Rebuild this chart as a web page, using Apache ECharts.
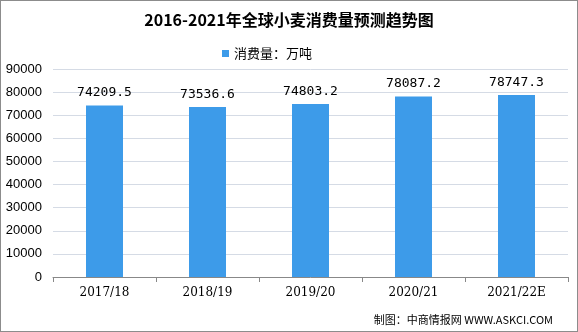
<!DOCTYPE html>
<html><head><meta charset="utf-8">
<script src="https://cdn.jsdelivr.net/npm/echarts@6/dist/echarts.min.js"></script>
<style>html,body{margin:0;padding:0;background:#fff}#c{width:576px;height:330px;border:1px solid #8c8c8c}</style>
</head><body><div id="c"></div>
<script>
const categories = ['2017/18','2018/19','2019/20','2020/21','2021/22E'];
const values = [74209.5, 73536.6, 74803.2, 78087.2, 78747.3];
const seriesName = '消费量：万吨';
const chart = echarts.init(document.getElementById('c'));
chart.setOption({
  animation:false,
  title:{text:'2016-2021年全球小麦消费量预测趋势图',left:'center',top:6,
    textStyle:{fontFamily:'Noto Sans CJK SC',fontWeight:'bold',fontSize:16,color:'#000'}},
  legend:{top:41,left:216,itemWidth:7,itemHeight:7,itemGap:5,icon:'rect',
    textStyle:{fontFamily:'Noto Sans CJK SC',fontSize:13,color:'#000'}},
  graphic:[{type:'text',right:24,bottom:6,style:{text:'制图：中商情报网 WWW.ASKCI.COM',fontFamily:'Noto Sans CJK SC',fontSize:11,fill:'#000'}}],
  grid:{left:52,right:9,top:68,bottom:54},
  xAxis:{type:'category',data:categories,
    axisLine:{lineStyle:{color:'#888'}},axisTick:{show:true,alignWithLabel:false,lineStyle:{color:'#888'}},
    axisLabel:{color:'#000',fontSize:12,fontFamily:'DejaVu Serif',margin:10}},
  yAxis:{type:'value',min:0,max:90000,interval:10000,
    axisLine:{show:false},axisTick:{show:false},
    splitLine:{lineStyle:{color:'#d5dbe5'}},
    axisLabel:{color:'#000',fontSize:13,fontFamily:'Liberation Sans',margin:11,formatter:function(v){return String(v);}}},
  series:[{name:seriesName,type:'bar',data:values,barWidth:37,
    itemStyle:{color:'#3d9be9'},
    label:{show:true,position:'top',distance:6,color:'#000',fontSize:13,fontFamily:'DejaVu Sans Mono'}}]
});
</script></body></html>
